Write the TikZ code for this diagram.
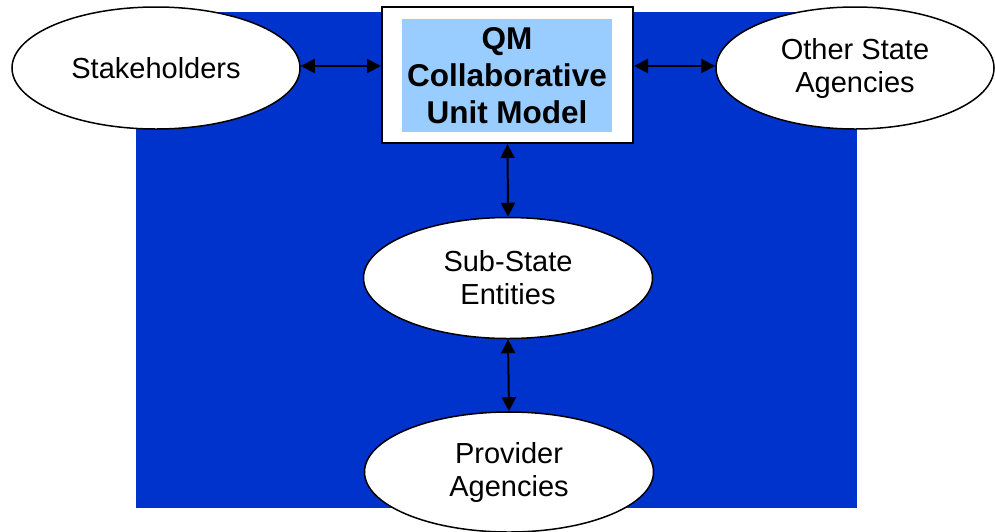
\documentclass[tikz,border=0pt]{standalone}
\usepackage{fontspec}
\setmainfont{Liberation Sans}
\usepackage{xcolor}
\usetikzlibrary{shapes.geometric,arrows.meta}
\definecolor{bgblue}{HTML}{0033CC}
\definecolor{qmblue}{HTML}{99CCFF}

\begin{document}
\begin{tikzpicture}[x=1pt, y=-1pt,
    every node/.style={font=\fontsize{29}{33}\selectfont, align=center},
    party/.style={ellipse, draw, line width=1.5pt, fill=white, inner sep=0pt},
    link/.style={{Triangle[length=14pt,width=14pt]}-{Triangle[length=14pt,width=14pt]}, line width=2pt}]
  \useasboundingbox (0,0) rectangle (995,531);
  % background panel
  \fill[bgblue] (136,12) rectangle (857,508);
  % centre box
  \node[draw, line width=2pt, fill=white, minimum width=251pt, minimum height=136pt] (frame) at (507.5,75) {};
  \node[fill=qmblue, inner sep=0pt, minimum width=210pt, minimum height=113pt,
        font=\fontsize{31.5}{37}\selectfont\bfseries] (qm) at (507,75.5) {QM\\Collaborative\\Unit Model};
  % partners
  \node[party, minimum width=288pt, minimum height=122pt] (stake) at (156,68) {Stakeholders};
  \node[party, minimum width=278pt, minimum height=122pt] (other) at (855,68) {Other State\\Agencies};
  \node[party, minimum width=289pt, minimum height=121pt] (sub) at (508,278) {Sub-State\\Entities};
  \node[party, minimum width=289pt, minimum height=120pt] (prov) at (509,472) {Provider\\Agencies};
  % links
  \draw[link] ([yshift=2pt]stake.east) -- ([yshift=2pt]stake.east -| frame.west);
  \draw[link] ([yshift=2pt]other.west -| frame.east) -- ([yshift=2pt]other.west);
  \draw[link] (frame.south) -- (sub.north);
  \draw[link] (sub.south) -- (prov.north);
\end{tikzpicture}
\end{document}
